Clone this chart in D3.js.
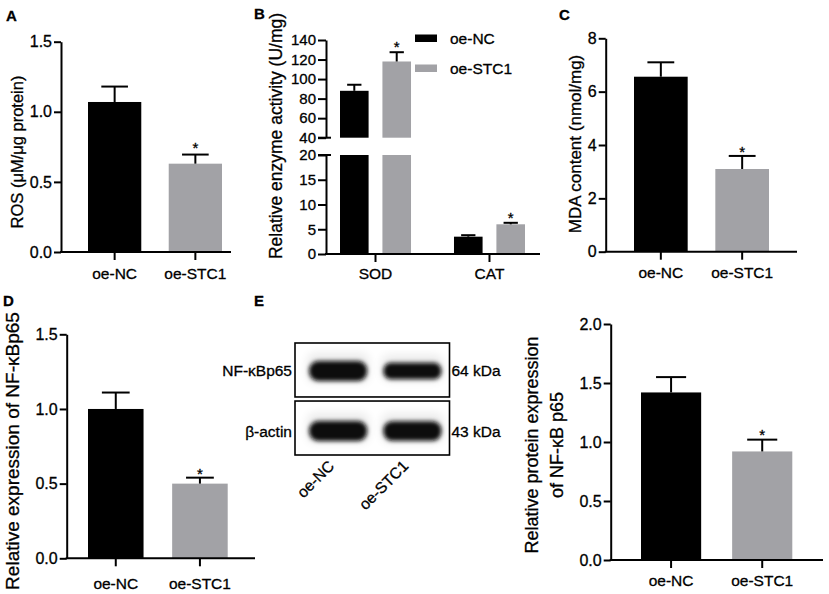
<!DOCTYPE html>
<html>
<head>
<meta charset="utf-8">
<script src="https://cdn.jsdelivr.net/npm/d3@7"></script>
<style>
    body { margin: 0; background: #fff; }
    svg { font-family: Arial, "Liberation Sans", Helvetica, sans-serif; }
    svg text { stroke: #000; stroke-width: 0.3px; }
</style>
</head>
<body>
<div class="fig"></div>
<script>

// groups and colours
const groups = ["oe-NC", "oe-STC1"]
const group_colors = ["#000000", "#a2a2a6"]
const significant = [false, true]

// A: ROS
const ros_mean = [1.07, 0.63]
const ros_err = [0.11, 0.065]
const ros_ticks = [0, 0.5, 1.0, 1.5]

// B: enzyme activity (broken axis)
const enzymes = ["SOD", "CAT"]
const sod_mean = [88, 118]
const sod_err = [6.2, 9.5]
const cat_mean = [3.5, 6.0]
const cat_err = [0.3, 0.3]
const enzyme_ticks_low = [0, 5, 10, 15, 20]
const enzyme_ticks_high = [40, 60, 80, 100, 120, 140]

// C: MDA
const mda_mean = [6.56, 3.10]
const mda_err = [0.54, 0.49]
const mda_ticks = [0, 2, 4, 6, 8]

// D: NF-kBp65 mRNA
const nfkb_rna_mean = [1.0, 0.50]
const nfkb_rna_err = [0.11, 0.04]
const nfkb_rna_ticks = [0, 0.5, 1.0, 1.5]

// E: western blot + protein level
const blot_proteins = ["NF-κBp65", "β-actin"]
const blot_kda = ["64 kDa", "43 kDa"]
const blot_nfkb = [1.0, 0.82]
const blot_actin = [1.0, 0.98]
const nfkb_prot_mean = [1.42, 0.92]
const nfkb_prot_err = [0.13, 0.10]
const nfkb_prot_ticks = [0, 0.5, 1.0, 1.5, 2.0]


const width = 829
const height = 594

const svg = d3.select(".fig")
    .append("svg")
    .attr("width", width)
    .attr("height", height)
    .attr("viewBox", [0, 0, width, height])


function panelLetter(txt, x, y) {
    svg.append("text")
        .attr("x", x).attr("y", y)
        .attr("font-size", 15)
        .attr("font-weight", "bold")
        .text(txt)
}

function yTitle(lines, cx, cy, size, lineGap) {
    const t = svg.append("text")
        .attr("transform", `translate(${cx},${cy}) rotate(-90)`)
        .attr("text-anchor", "middle")
        .attr("font-size", size)
    lines.forEach((l, i) => {
        t.append("tspan")
            .attr("x", 0)
            .attr("y", i * lineGap)
            .attr("dominant-baseline", "central")
            .text(l)
    })
}

function styleAxis(g, size) {
    g.selectAll(".domain").attr("stroke-width", 2)
    g.selectAll(".tick line").attr("stroke-width", 2)
    g.selectAll(".tick text").attr("font-size", size).attr("fill", "#000")
}

function errorBar(g, cx, yTopBar, yErr, bw) {
    g.append("line")
        .attr("x1", cx).attr("x2", cx)
        .attr("y1", yTopBar).attr("y2", yErr)
        .attr("stroke", "#000").attr("stroke-width", 2)
    g.append("line")
        .attr("x1", cx - bw / 4).attr("x2", cx + bw / 4)
        .attr("y1", yErr).attr("y2", yErr)
        .attr("stroke", "#000").attr("stroke-width", 2)
}

function star(g, cx, y) {
    g.append("text")
        .attr("x", cx).attr("y", y)
        .attr("text-anchor", "middle")
        .attr("font-size", 15)
        .text("*")
}

// simple two-bar panel
function drawBars(c) {
    const g = svg.append("g")

    const y = d3.scaleLinear()
        .domain([0, d3.max(c.ticks)])
        .range([c.y0, c.yTop])

    const x = d3.scaleBand()
        .domain(groups)
        .range([c.bx0, c.bx1])
        .paddingInner(0.34)
        .paddingOuter(0)

    const bw = x.bandwidth()

    g.selectAll("rect")
        .data(groups)
        .join("rect")
        .attr("x", d => x(d))
        .attr("width", bw)
        .attr("y", (d, i) => y(c.mean[i]))
        .attr("height", (d, i) => c.y0 - y(c.mean[i]))
        .attr("fill", (d, i) => group_colors[i])

    groups.forEach((d, i) => {
        const cx = x(d) + bw / 2
        const ye = y(c.mean[i] + c.err[i])
        errorBar(g, cx, y(c.mean[i]), ye, bw)
        if (significant[i]) star(g, cx, ye + c.starOff)
    })

    const yAxis = g.append("g")
        .attr("transform", `translate(${c.axisX},0)`)
        .call(d3.axisLeft(y).tickValues(c.ticks).tickFormat(c.fmt).tickSize(7).tickPadding(2).tickSizeOuter(0))
    styleAxis(yAxis, 16)

    g.append("line")
        .attr("x1", c.axisX - 1).attr("x2", c.xEnd)
        .attr("y1", c.y0).attr("y2", c.y0)
        .attr("stroke", "#000").attr("stroke-width", 2)

    const xAxis = g.append("g")
        .attr("transform", `translate(0,${c.y0})`)
        .call(d3.axisBottom(x).tickSize(8).tickPadding(c.xPad))
    xAxis.select(".domain").remove()
    styleAxis(xAxis, 15.5)
}


// ---- A
panelLetter("A", 6, 21)
drawBars({
    axisX: 61, y0: 252, yTop: 41.7, xEnd: 231, bx0: 88, bx1: 222,
    ticks: ros_ticks, fmt: d3.format(".1f"), mean: ros_mean, err: ros_err, xPad: 8, starOff: -2
})
yTitle(["ROS (μM/μg protein)"], 17, 152, 16.5, 0)

// ---- C
panelLetter("C", 559, 20)
drawBars({
    axisX: 605.7, y0: 251.7, yTop: 38.3, xEnd: 797, bx0: 634, bx1: 769,
    ticks: mda_ticks, fmt: d3.format("d"), mean: mda_mean, err: mda_err, xPad: 7, starOff: 1
})
yTitle(["MDA content (nmol/mg)"], 575, 144, 17, 0)

// ---- D
panelLetter("D", 3, 306)
drawBars({
    axisX: 66.7, y0: 558.3, yTop: 334.3, xEnd: 255, bx0: 88, bx1: 227.7,
    ticks: nfkb_rna_ticks, fmt: d3.format(".1f"), mean: nfkb_rna_mean, err: nfkb_rna_err, xPad: 12, starOff: 1
})
yTitle(["Relative expression of NF-κBp65"], 12.5, 451, 19, 0)

// ---- E (chart)
drawBars({
    axisX: 610.7, y0: 560, yTop: 324, xEnd: 823, bx0: 641, bx1: 792.3,
    ticks: nfkb_prot_ticks, fmt: d3.format(".1f"), mean: nfkb_prot_mean, err: nfkb_prot_err, xPad: 7, starOff: 0
})
yTitle(["Relative protein expression", "of NF-κB p65"], 531.5, 445, 18, 25)


// ---- B (broken axis)
panelLetter("B", 254, 19)
{
    const g = svg.append("g")
    const axisX = 326
    const yLo = d3.scaleLinear().domain([0, 20]).range([254, 155])
    const yHi = d3.scaleLinear().domain([40, 140]).range([137.7, 40])

    const x0 = d3.scaleBand().domain(enzymes).range([340, 525]).paddingInner(0.377).paddingOuter(0)
    const x1 = d3.scaleBand().domain(groups).range([0, x0.bandwidth()]).paddingInner(0.326).paddingOuter(0)
    const bw = x1.bandwidth()

    const yOf = v => v > 20 ? yHi(v) : yLo(v)

    const series = [
        { name: "SOD", mean: sod_mean, err: sod_err },
        { name: "CAT", mean: cat_mean, err: cat_err }
    ]

    series.forEach(s => {
        groups.forEach((grp, i) => {
            const bx = x0(s.name) + x1(grp)
            const v = s.mean[i]
            if (v > 20) {
                g.append("rect")
                    .attr("x", bx).attr("width", bw)
                    .attr("y", yLo(20)).attr("height", yLo(0) - yLo(20))
                    .attr("fill", group_colors[i])
                g.append("rect")
                    .attr("x", bx).attr("width", bw)
                    .attr("y", yHi(v)).attr("height", yHi(40) - yHi(v))
                    .attr("fill", group_colors[i])
            } else {
                g.append("rect")
                    .attr("x", bx).attr("width", bw)
                    .attr("y", yLo(v)).attr("height", yLo(0) - yLo(v))
                    .attr("fill", group_colors[i])
            }
            const cx = bx + bw / 2
            const ye = yOf(v + s.err[i])
            errorBar(g, cx, yOf(v), ye, bw)
            if (significant[i]) star(g, cx, ye + 0)
        })
    })

    const aLo = g.append("g").attr("transform", `translate(${axisX},0)`)
        .call(d3.axisLeft(yLo).tickValues(enzyme_ticks_low).tickSize(8).tickPadding(2).tickSizeOuter(0))
    styleAxis(aLo, 15)
    const aHi = g.append("g").attr("transform", `translate(${axisX},0)`)
        .call(d3.axisLeft(yHi).tickValues(enzyme_ticks_high).tickSize(8).tickPadding(2).tickSizeOuter(0))
    styleAxis(aHi, 15)

    // break marks reach across the axis
    ;[yHi(40), yLo(20)].forEach(yy => {
        g.append("line")
            .attr("x1", axisX - 8).attr("x2", axisX + 5)
            .attr("y1", yy).attr("y2", yy)
            .attr("stroke", "#000").attr("stroke-width", 2)
    })

    g.append("line")
        .attr("x1", axisX - 1).attr("x2", 540)
        .attr("y1", yLo(0)).attr("y2", yLo(0))
        .attr("stroke", "#000").attr("stroke-width", 2)

    const xAxis = g.append("g")
        .attr("transform", `translate(0,${yLo(0)})`)
        .call(d3.axisBottom(x0).tickSize(8).tickPadding(6))
    xAxis.select(".domain").remove()
    styleAxis(xAxis, 15.5)

    // legend
    const leg = g.append("g")
    groups.forEach((grp, i) => {
        leg.append("rect")
            .attr("x", 415).attr("y", 34.5 + i * 30)
            .attr("width", 22).attr("height", 7.5)
            .attr("fill", group_colors[i])
        leg.append("text")
            .attr("x", 450).attr("y", 38.5 + i * 30)
            .attr("dominant-baseline", "central")
            .attr("font-size", 15.5)
            .text(grp)
    })

    yTitle(["Relative enzyme activity (U/mg)"], 276, 136, 17.5, 0)
}


// ---- E (blot)
panelLetter("E", 254, 306)
{
    const g = svg.append("g")
    const defs = svg.append("defs")
    defs.append("filter").attr("id", "blur")
        .attr("x", "-20%").attr("y", "-60%").attr("width", "140%").attr("height", "220%")
        .append("feGaussianBlur").attr("stdDeviation", 2.2)
    defs.append("filter").attr("id", "haze")
        .attr("x", "-30%").attr("y", "-100%").attr("width", "160%").attr("height", "300%")
        .append("feGaussianBlur").attr("stdDeviation", 5)

    const boxX0 = 295, boxX1 = 449.5
    const rows = d3.scaleBand().domain(blot_proteins).range([343, 455]).paddingInner(0.07)
    const lane = d3.scalePoint().domain(groups).range([boxX0 + 6, boxX1]).padding(0.5)
    const thick = d3.scaleLinear().domain([0, 1]).range([0, 20])
    const bandW = 58

    const bandVals = [blot_nfkb, blot_actin]

    blot_proteins.forEach((p, r) => {
        const top = rows(p)
        const h = rows.bandwidth()
        const cy = top + h / 2 + (r == 0 ? 1 : 3)

        g.append("rect")
            .attr("x", boxX0).attr("y", top)
            .attr("width", boxX1 - boxX0).attr("height", h)
            .attr("fill", "#fff")

        groups.forEach((grp, i) => {
            const cx = lane(grp)
            const t = thick(bandVals[r][i])
            g.append("rect")
                .attr("x", cx - bandW / 2 - 2).attr("y", cy - t / 2 - 8)
                .attr("width", bandW + 4).attr("height", t + 10)
                .attr("rx", 8)
                .attr("fill", "#000").attr("opacity", 0.08)
                .attr("filter", "url(#haze)")
            g.append("rect")
                .attr("x", cx - bandW / 2).attr("y", cy - t / 2)
                .attr("width", bandW).attr("height", t)
                .attr("rx", t / 2.2)
                .attr("fill", "#0a0a0a")
                .attr("filter", "url(#blur)")
        })

        g.append("rect")
            .attr("x", boxX0).attr("y", top)
            .attr("width", boxX1 - boxX0).attr("height", h)
            .attr("fill", "none").attr("stroke", "#000").attr("stroke-width", 1.6)

        g.append("text")
            .attr("x", boxX0 - 3).attr("y", cy)
            .attr("text-anchor", "end")
            .attr("dominant-baseline", "central")
            .attr("font-size", 15.5)
            .text(p)

        g.append("text")
            .attr("x", boxX1 + 2).attr("y", cy)
            .attr("dominant-baseline", "central")
            .attr("font-size", 15.5)
            .text(blot_kda[r])
    })

    groups.forEach(grp => {
        g.append("text")
            .attr("transform", `translate(${lane(grp) - 3},${467}) rotate(-45)`)
            .attr("text-anchor", "end")
            .attr("font-size", 15.5)
            .text(grp)
    })
}

</script>
</body>
</html>
